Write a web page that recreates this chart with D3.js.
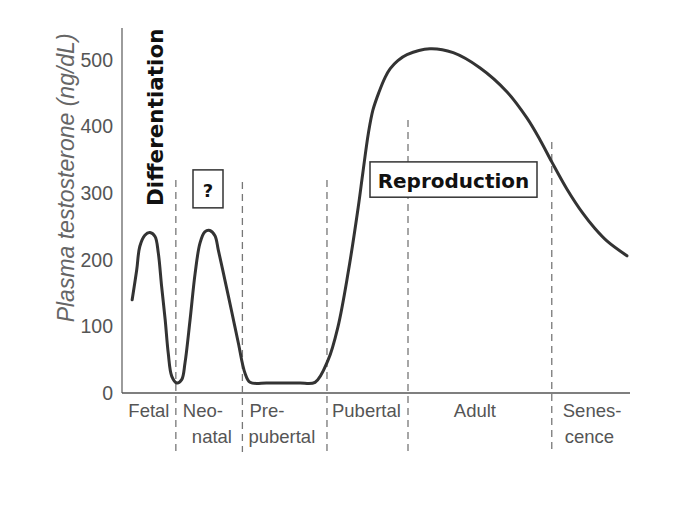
<!DOCTYPE html>
<html><head><meta charset="utf-8">
<script src="https://cdn.jsdelivr.net/npm/d3@7"></script>
<style>body{margin:0;background:#fff}</style>
</head><body>
<svg id="c" width="686" height="516"></svg>
<script>
// life-stage position (0-100) vs plasma testosterone (ng/dL)
const curveX = [2.0,2.9,3.5,4.5,5.5,6.5,7.15,7.8,8.5,9.1,9.8,10.8,11.75,12.4,13.4,14.4,15.35,16.3,17.3,18.3,18.95,20.3,21.6,22.9,24.2,25.2,28.5,31.8,35.0,38.0,40.6,42.5,44.5,46.5,47.4,48.5,49.4,50.6,51.8,52.8,54.3,56.1,60.6,65.2,70.5,75.8,79.7,82.3,84.6,87.6,90.7,93.1,95.5,99.4];
const curveY = [140,185,220,237,241,235,210,160,110,60,25,15,20,45,110,180,225,242,244,236,215,168,122,75,30,16,15,15,15,16,50,99,180,279,330,390,425,452,474,487,499,508,517,511,488,452,413,380,347,306,270,247,228,206];
const boundaries = [10.6,23.7,40.35,56.3,84.6];
const boundaryTops = [320,317,320,410,377];
const stageLabels = [["Fetal"],["Neo-","natal"],["Pre-","pubertal"],["Pubertal"],["Adult"],["Senes-","cence"]];
const yTicks = [0,100,200,300,400,500];

const svg = d3.select("#c");
const x = d3.scaleLinear().domain([0,100]).range([122,630]);
const y = d3.scaleLinear().domain([0,500]).range([393,60]);
const grey = "#555";
const lblFont = "Liberation Sans, Arial, sans-serif";

// axes lines
svg.append("line").attr("x1",x(0)).attr("x2",x(0)).attr("y1",y(0)).attr("y2",y(548)).attr("stroke","#666").attr("stroke-width",1.3);
svg.append("line").attr("x1",x(0)).attr("x2",x(100)).attr("y1",y(0)).attr("y2",y(0)).attr("stroke","#555").attr("stroke-width",1.6);

const yAxis = d3.axisLeft(y).tickValues(yTicks).tickSize(0).tickPadding(9).tickFormat(d3.format("d"));
const ga = svg.append("g").attr("transform",`translate(${x(0)},0)`).call(yAxis);
ga.select(".domain").remove();
ga.selectAll("text").attr("font-family",lblFont).attr("font-size",19.5).attr("fill",grey);

svg.append("text").attr("transform",`translate(74,${y(323)}) rotate(-90)`).attr("text-anchor","middle")
  .attr("font-family",lblFont).attr("font-style","italic").attr("font-size",23).attr("fill","#666")
  .text("Plasma testosterone (ng/dL)");

// dashed boundaries
boundaries.forEach((b,i)=>{
  svg.append("line").attr("x1",x(b)).attr("x2",x(b)).attr("y1",y(boundaryTops[i])).attr("y2",452)
    .attr("stroke","#777").attr("stroke-width",1.3).attr("stroke-dasharray","7,5");
});

// stage labels (layout offsets from the left boundary of each stage)
const edges = [0].concat(boundaries).concat([100]);
const lineOffsets = [[0],[7,16],[7,6],[5],[-5],[11,13]];
stageLabels.forEach((lines,i)=>{
  const center = i===0 || i===4;
  lines.forEach((t,j)=>{
    const xs = center ? (x(edges[i])+x(edges[i+1]))/2 + lineOffsets[i][j] : x(edges[i]) + lineOffsets[i][j];
    svg.append("text").attr("x", xs).attr("y",417+j*26)
      .attr("text-anchor",center?"middle":"start").attr("font-family",lblFont).attr("font-size",18.5).attr("fill",grey).text(t);
  });
});

// curve
const pts = curveX.map((v,i)=>[v,curveY[i]]);
svg.append("path").datum(pts).attr("fill","none").attr("stroke","#333").attr("stroke-width",3)
  .attr("stroke-linejoin","round").attr("stroke-linecap","round")
  .attr("d",d3.line().x(d=>x(d[0])).y(d=>y(d[1])).curve(d3.curveCatmullRom.alpha(0.5)));

// annotations
const annFont = "DejaVu Sans, sans-serif";
svg.append("text").attr("transform",`translate(163,${y(414)}) rotate(-90)`).attr("text-anchor","middle")
  .attr("font-family",annFont).attr("font-weight","bold").attr("font-size",21.5).attr("fill","#111").text("Differentiation");

svg.append("rect").attr("x",193).attr("y",y(335)).attr("width",30).attr("height",y(278)-y(335))
  .attr("fill","#fff").attr("stroke","#333").attr("stroke-width",1.5);
svg.append("text").attr("x",208).attr("y",y(294)).attr("text-anchor","middle")
  .attr("font-family",annFont).attr("font-weight","bold").attr("font-size",18).attr("fill","#111").text("?");

svg.append("rect").attr("x",370).attr("y",y(347)).attr("width",167).attr("height",y(294)-y(347))
  .attr("fill","#fff").attr("stroke","#333").attr("stroke-width",1.5);
svg.append("text").attr("x",453.5).attr("y",y(308)).attr("text-anchor","middle")
  .attr("font-family",annFont).attr("font-weight","bold").attr("font-size",20).attr("fill","#111").text("Reproduction");
</script>
</body></html>
